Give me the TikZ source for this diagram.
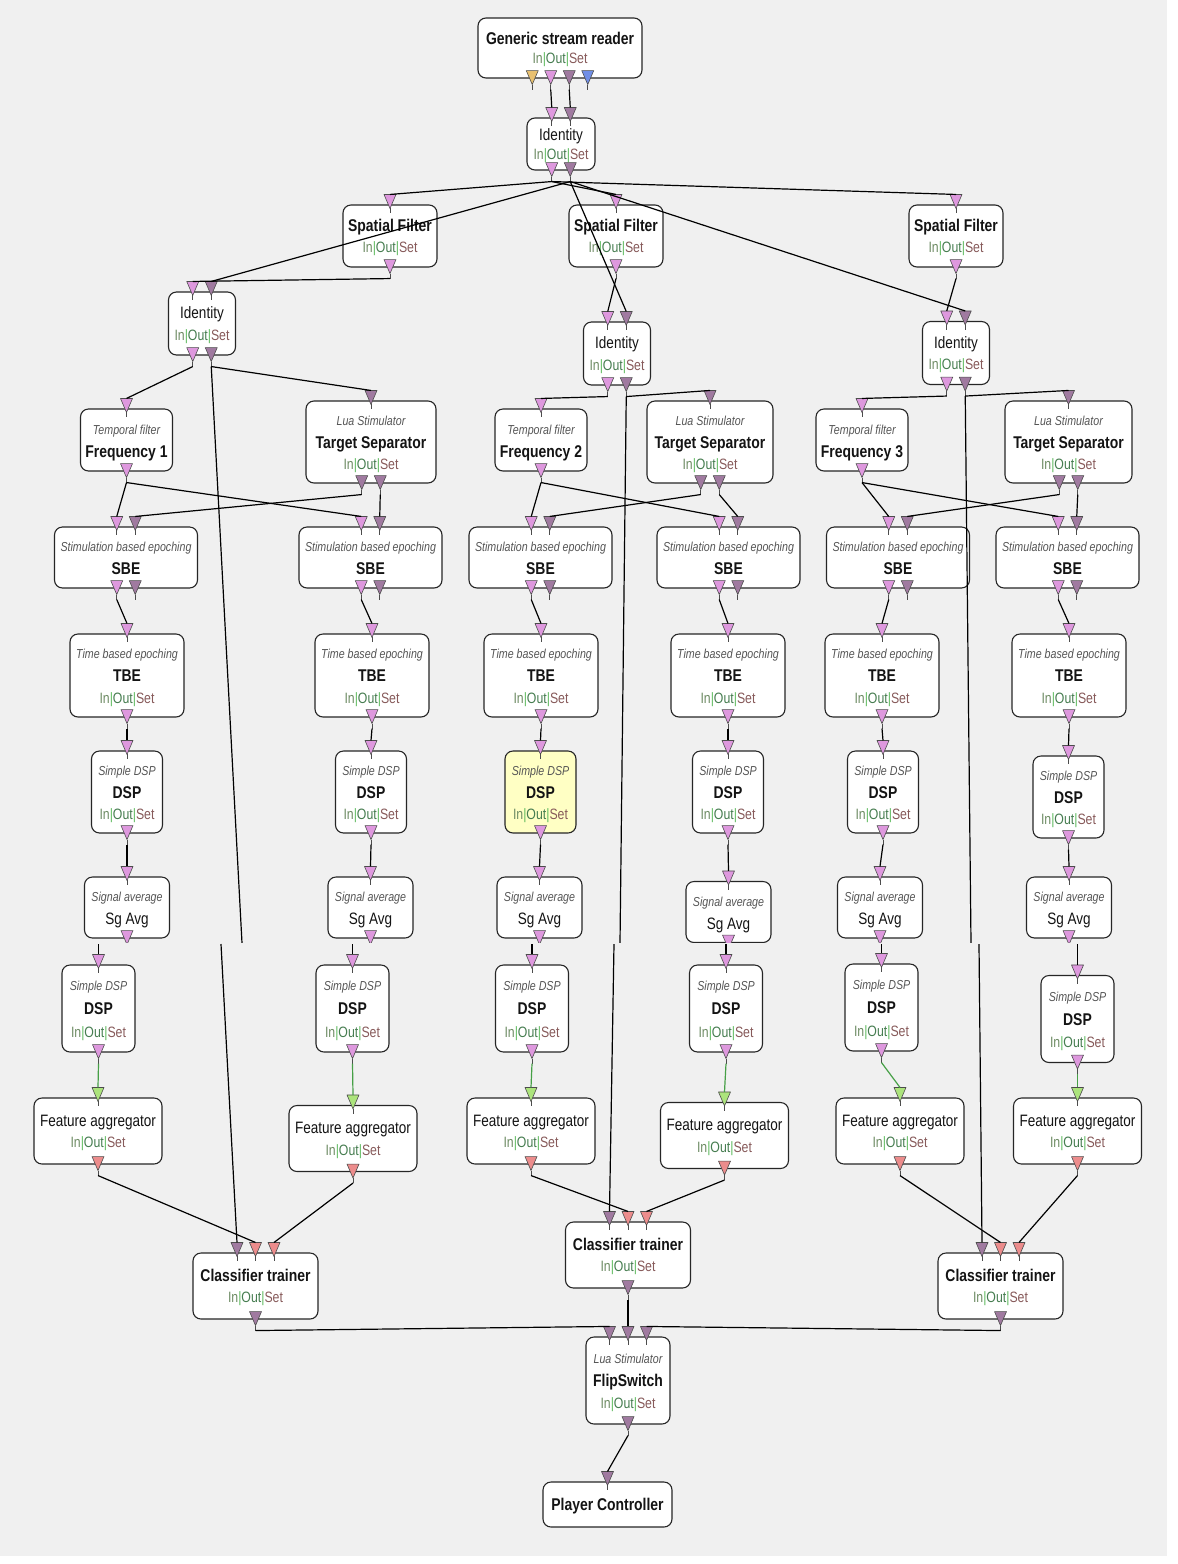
\documentclass[tikz,border=0pt]{standalone}
\usepackage{fontspec}
\setmainfont{Liberation Sans}[FakeStretch=0.9]
\newfontfamily\condfont{Liberation Sans}[FakeStretch=0.82]
\usetikzlibrary{calc}

\definecolor{bg}{RGB}{240,240,240}
\definecolor{psig}{RGB}{222,152,222}
\definecolor{pstim}{RGB}{160,122,160}
\definecolor{pyel}{RGB}{232,192,112}
\definecolor{pblu}{RGB}{112,142,230}
\definecolor{pgrn}{RGB}{172,228,124}
\definecolor{pred}{RGB}{236,140,140}
\definecolor{hilite}{RGB}{255,255,196}
\definecolor{cIn}{RGB}{110,140,100}
\definecolor{cOut}{RGB}{70,125,80}
\definecolor{cSet}{RGB}{135,90,90}
\definecolor{cBar}{RGB}{90,185,90}
\definecolor{italgray}{RGB}{85,85,85}
\definecolor{featlink}{RGB}{70,160,70}

\tikzset{
  ovb/.style={draw=black!85, line width=1.1pt, rounded corners=8pt, fill=white, inner sep=0pt},
  ttl/.style={anchor=base, yshift=-6pt, inner sep=0pt, font=\condfont\fontsize{17}{20}\selectfont\bfseries, text=black!92},
  reg/.style={anchor=base, yshift=-6pt, inner sep=0pt, font=\condfont\fontsize{16.5}{20}\selectfont, text=black!92},
  ital/.style={anchor=base, yshift=-5pt, inner sep=0pt, font=\condfont\fontsize{13}{15}\selectfont\itshape, text=italgray},
  prt/.style={anchor=base, yshift=-5.5pt, inner sep=0pt, font=\condfont\fontsize{15}{17}\selectfont},
  portshape/.style={draw=black!70, line width=0.6pt, line join=round},
  stem/.style={draw=black!70, line width=0.9pt},
  link/.style={draw=black, line width=1.2pt},
  flink/.style={draw=featlink, line width=1.2pt},
}

% box: [extra style]{name}{cx}{cy}{width}{height}
\newcommand\ovbox[6][]{\node[ovb,minimum width=#5pt,minimum height=#6pt,#1] (#2) at (#3,#4) {};}
% one text line of a box: {box}{suffix}{dy from centre}{style}{text}
\newcommand\ovtext[5]{\node[#4] (#1-#2) at ($(#1.center)+(0,#3)$) {#5};}
\newcommand\iosl{{\color{cIn}In}{\color{cBar}|}{\color{cOut}Out}{\color{cBar}|}{\color{cSet}Set}}
% input ports on the top edge: {box}{count}{colours}
\newcommand\inports[3]{%
  \foreach \pcol [count=\pn] in {#3}{%
    \coordinate (#1-i\pn) at ($(#1.north)+({(\pn-(#2+1)/2)*18.5},-10)$);
    \draw[portshape, fill=\pcol] ($(#1-i\pn)+(-6,0)$) -- ($(#1-i\pn)+(6,0)$) -- ($(#1-i\pn)+(0,14)$) -- cycle;
    \draw[stem] ($(#1-i\pn)+(0,14)$) -- ($(#1-i\pn)+(0,19)$);
  }}
% output ports on the bottom edge: {box}{count}{colours}
\newcommand\outports[3]{%
  \foreach \pcol [count=\pn] in {#3}{%
    \coordinate (#1-o\pn) at ($(#1.south)+({(\pn-(#2+1)/2)*18.5},11)$);
    \draw[portshape, fill=\pcol] ($(#1-o\pn)+(-6,-19)$) -- ($(#1-o\pn)+(6,-19)$) -- ($(#1-o\pn)+(0,-5)$) -- cycle;
    \draw[stem] ($(#1-o\pn)+(0,-5)$) -- (#1-o\pn);
  }}

% box kinds
\newcommand\spatial[2]{\ovbox{#1}{#2}{236}{94}{62}\ovtext{#1}{a}{-11}{ttl}{Spatial Filter}\ovtext{#1}{b}{11}{prt}{\iosl}\inports{#1}{1}{psig}\outports{#1}{1}{psig}}
\newcommand\ident[3]{\ovbox{#1}{#2}{#3}{67}{63}\ovtext{#1}{a}{-11}{reg}{Identity}\ovtext{#1}{b}{11}{prt}{\iosl}\inports{#1}{2}{psig,pstim}\outports{#1}{2}{psig,pstim}}
\newcommand\tempf[3]{\ovbox{#1}{#2}{440}{92}{62}\ovtext{#1}{a}{-11}{ital}{Temporal filter}\ovtext{#1}{b}{11}{ttl}{#3}\inports{#1}{1}{psig}\outports{#1}{1}{psig}}
\newcommand\tsep[3]{\ovbox{#1}{#2}{442}{#3}{82}\ovtext{#1}{a}{-22}{ital}{Lua Stimulator}\ovtext{#1}{b}{0}{ttl}{Target Separator}\ovtext{#1}{c}{22}{prt}{\iosl}\inports{#1}{1}{pstim}\outports{#1}{2}{pstim,pstim}}
\newcommand\sbe[2]{\ovbox{#1}{#2}{557.5}{143}{61}\ovtext{#1}{a}{-11}{ital}{Stimulation based epoching}\ovtext{#1}{b}{11}{ttl}{SBE}\inports{#1}{2}{psig,pstim}\outports{#1}{2}{psig,pstim}}
\newcommand\tbe[2]{\ovbox{#1}{#2}{675.5}{114}{83}\ovtext{#1}{a}{-22}{ital}{Time based epoching}\ovtext{#1}{b}{0}{ttl}{TBE}\ovtext{#1}{c}{22}{prt}{\iosl}\inports{#1}{1}{psig}\outports{#1}{1}{psig}}
\newcommand\dsp[5][]{\ovbox[#1]{#2}{#3}{#4}{71}{#5}\ovtext{#2}{a}{-22}{ital}{Simple DSP}\ovtext{#2}{b}{0}{ttl}{DSP}\ovtext{#2}{c}{22}{prt}{\iosl}\inports{#2}{1}{psig}\outports{#2}{1}{psig}}
\newcommand\sga[3]{\ovbox{#1}{#2}{#3}{85}{61}\ovtext{#1}{a}{-11}{ital}{Signal average}\ovtext{#1}{b}{11}{reg}{Sg Avg}\inports{#1}{1}{psig}\outports{#1}{1}{psig}}
\newcommand\dspb[3]{\ovbox{#1}{#2}{#3}{73}{87}\ovtext{#1}{a}{-23}{ital}{Simple DSP}\ovtext{#1}{b}{0}{ttl}{DSP}\ovtext{#1}{c}{23}{prt}{\iosl}\inports{#1}{1}{psig}\outports{#1}{1}{psig}}
\newcommand\feat[3]{\ovbox{#1}{#2}{#3}{128}{66}\ovtext{#1}{a}{-11}{reg}{Feature aggregator}\ovtext{#1}{b}{11}{prt}{\iosl}\inports{#1}{1}{pgrn}\outports{#1}{1}{pred}}
\newcommand\ctrain[3]{\ovbox{#1}{#2}{#3}{125}{66}\ovtext{#1}{a}{-11}{ttl}{Classifier trainer}\ovtext{#1}{b}{11}{prt}{\iosl}\inports{#1}{3}{pstim,pred,pred}\outports{#1}{1}{pstim}}

\begin{document}
\begin{tikzpicture}[x=1pt,y=-1pt]
\useasboundingbox (0,0) rectangle (1178,1564);
\fill[white] (0,0) rectangle (1178,1564);
\fill[bg] (0,0) rectangle (1167,1556);

% ---------------- upper part ----------------
\ovbox{gsr}{560}{48}{164}{60}
\ovtext{gsr}{a}{-10}{ttl}{Generic stream reader}
\ovtext{gsr}{b}{10}{prt}{\iosl}
\outports{gsr}{4}{pyel,psig,pstim,pblu}

\ovbox{idT}{561}{144}{68}{52}
\ovtext{idT}{a}{-9.5}{reg}{Identity}
\ovtext{idT}{b}{9.5}{prt}{\iosl}
\inports{idT}{2}{psig,pstim}
\outports{idT}{2}{psig,pstim}

\spatial{sf1}{390}
\spatial{sf2}{616}
\spatial{sf3}{956}

\ident{idL}{202}{323.5}
\ident{idM}{617}{353.5}
\ident{idR}{956}{353}

\tempf{tf1}{126.5}{Frequency 1}
\tempf{tf2}{541}{Frequency 2}
\tempf{tf3}{862}{Frequency 3}
\tsep{ts1}{371}{130}
\tsep{ts2}{710}{126}
\tsep{ts3}{1068.5}{127}

\sbe{sbe1L}{126}
\sbe{sbe1R}{370.5}
\sbe{sbe2L}{540.5}
\sbe{sbe2R}{728.5}
\sbe{sbe3L}{898}
\sbe{sbe3R}{1067.5}

\tbe{tbe1L}{127}
\tbe{tbe1R}{372}
\tbe{tbe2L}{541}
\tbe{tbe2R}{728}
\tbe{tbe3L}{882}
\tbe{tbe3R}{1069}

\dsp{dsp1L}{127}{792}{82}
\dsp{dsp1R}{371}{792}{82}
\dsp[fill=hilite]{dsp2L}{540.5}{792}{82}
\dsp{dsp2R}{728}{792}{82}
\dsp{dsp3L}{883}{792}{82}
\dsp{dsp3R}{1068.5}{797}{82}

\sga{sga1L}{127}{907.5}
\sga{sga1R}{370.5}{907.5}
\sga{sga2L}{539.5}{907.5}
\sga{sga2R}{728.5}{912}
\sga{sga3L}{880}{907.5}
\sga{sga3R}{1069}{907.5}

% upper ends of the long stimulation lines
\coordinate (upL) at (242,943);
\coordinate (upM) at (620,943);
\coordinate (upR) at (971,943);

% upper links
\draw[link] (gsr-o2) -- (idT-i1);
\draw[link] (gsr-o3) -- (idT-i2);
\draw[link] (idT-o1) -- (sf1-i1);
\draw[link] (idT-o1) -- (sf2-i1);
\draw[link] (idT-o1) -- (sf3-i1);
\draw[link] (idT-o2) -- (idL-i2);
\draw[link] (idT-o2) -- (idM-i2);
\draw[link] (idT-o2) -- (idR-i2);
\draw[link] (sf1-o1) -- (idL-i1);
\draw[link] (sf2-o1) -- (idM-i1);
\draw[link] (sf3-o1) -- (idR-i1);
\draw[link] (idL-o1) -- (tf1-i1);
\draw[link] (idL-o2) -- (ts1-i1);
\draw[link] (idL-o2) -- (upL);
\draw[link] (idM-o1) -- (tf2-i1);
\draw[link] (idM-o2) -- (ts2-i1);
\draw[link] (idM-o2) -- (upM);
\draw[link] (idR-o1) -- (tf3-i1);
\draw[link] (idR-o2) -- (ts3-i1);
\draw[link] (idR-o2) -- (upR);
\foreach \c/\l/\r in {1/sbe1L/sbe1R, 2/sbe2L/sbe2R, 3/sbe3L/sbe3R}{
  \draw[link] (tf\c-o1) -- (\l-i1);
  \draw[link] (tf\c-o1) -- (\r-i1);
  \draw[link] (ts\c-o1) -- (\l-i2);
  \draw[link] (ts\c-o2) -- (\r-i2);
}
\foreach \s in {1L,1R,2L,2R,3L,3R}{
  \draw[link] (sbe\s-o1) -- (tbe\s-i1);
  \draw[link] (tbe\s-o1) -- (dsp\s-i1);
  \draw[link] (dsp\s-o1) -- (sga\s-i1);
}

% ---------------- lower part ----------------
\fill[bg] (0,943) rectangle (1167,1556);

\dspb{dsp1Lb}{98.5}{1008.5}
\dspb{dsp1Rb}{352.5}{1008.5}
\dspb{dsp2Lb}{532}{1008.5}
\dspb{dsp2Rb}{726}{1008.5}
\dspb{dsp3Lb}{881.5}{1007.5}
\dspb{dsp3Rb}{1077.5}{1019}

\feat{fa1L}{98}{1131}
\feat{fa1R}{353}{1138.5}
\feat{fa2L}{531}{1131}
\feat{fa2R}{724.5}{1135.5}
\feat{fa3L}{900}{1131}
\feat{fa3R}{1077.5}{1131}

\ctrain{ct1}{255.5}{1286}
\ctrain{ct2}{628}{1255}
\ctrain{ct3}{1000.5}{1286}

\ovbox{fs}{628}{1380.5}{84}{87}
\ovtext{fs}{a}{-22}{ital}{Lua Stimulator}
\ovtext{fs}{b}{0}{ttl}{FlipSwitch}
\ovtext{fs}{c}{22}{prt}{\iosl}
\inports{fs}{3}{pstim,pstim,pstim}
\outports{fs}{1}{pstim}

\ovbox{pc}{607.5}{1504.5}{129}{45}
\ovtext{pc}{a}{0}{ttl}{Player Controller}
\inports{pc}{1}{pstim}

% lower starts of the cut lines
\coordinate (cut) at (0,944);
\coordinate (loL) at (221,944);
\coordinate (loM) at (614,944);
\coordinate (loR) at (979,944);

\foreach \s in {1L,1R,2L,2R,3L,3R}{
  \draw[link] (dsp\s b-i1 |- cut) -- (dsp\s b-i1);
  \draw[flink] (dsp\s b-o1) -- (fa\s-i1);
}
\draw[link] (loL) -- (ct1-i1);
\draw[link] (loM) -- (ct2-i1);
\draw[link] (loR) -- (ct3-i1);
\draw[link] (fa1L-o1) -- (ct1-i2);
\draw[link] (fa1R-o1) -- (ct1-i3);
\draw[link] (fa2L-o1) -- (ct2-i2);
\draw[link] (fa2R-o1) -- (ct2-i3);
\draw[link] (fa3L-o1) -- (ct3-i2);
\draw[link] (fa3R-o1) -- (ct3-i3);
\draw[link] (ct1-o1) -- (fs-i1);
\draw[link] (ct2-o1) -- (fs-i2);
\draw[link] (ct3-o1) -- (fs-i3);
\draw[link] (fs-o1) -- (pc-i1);
\end{tikzpicture}
\end{document}
